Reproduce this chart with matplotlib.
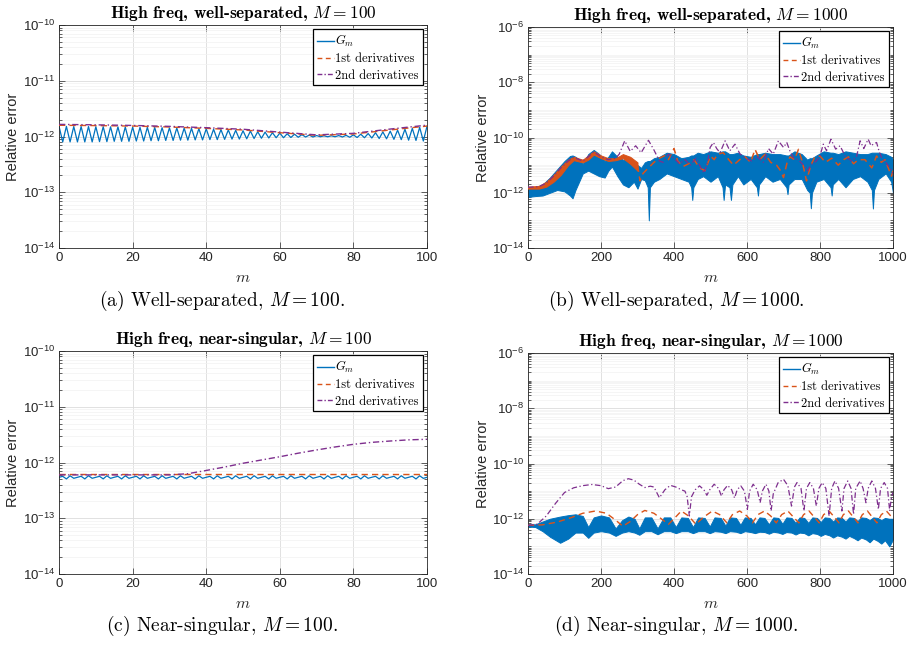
import numpy as np
import matplotlib
matplotlib.use('Agg')
import matplotlib.pyplot as plt
from matplotlib.lines import Line2D
from matplotlib.ticker import FixedLocator, LogFormatterSciNotation, NullFormatter

plt.rcParams['font.family'] = ['Liberation Sans', 'DejaVu Sans']
plt.rcParams['mathtext.fontset'] = 'cm'

UNIT = 1e-12   # every error value below is given in units of 1e-12

BLUE = '#0072BD'
ORANGE = '#D95319'
PURPLE = '#7E2F8E'
AXCOL = '#262626'

# ---------------- (a) well-separated, M = 100 ----------------
m_a = np.arange(101)
gm_a = [1.52, 0.80, 1.52, 0.80, 1.51, 0.80, 1.51, 0.80, 1.51, 0.80,
        1.50, 0.81, 1.50, 0.81, 1.49, 0.82, 1.49, 0.82, 1.48, 0.82,
        1.47, 0.83, 1.46, 0.83, 1.46, 0.84, 1.45, 0.84, 1.44, 0.85,
        1.43, 0.85, 1.42, 0.86, 1.41, 0.86, 1.40, 0.87, 1.38, 0.87,
        1.37, 0.88, 1.35, 0.88, 1.33, 0.89, 1.31, 0.90, 1.29, 0.90,
        1.27, 0.91, 1.25, 0.92, 1.22, 0.93, 1.20, 0.94, 1.17, 0.95,
        1.15, 0.95, 1.12, 0.96, 1.10, 0.97, 1.08, 0.98, 1.06, 0.98,
        1.04, 0.99, 1.03, 0.99, 1.03, 0.99, 1.04, 0.98, 1.05, 0.97,
        1.07, 0.96, 1.10, 0.95, 1.13, 0.94, 1.17, 0.92, 1.21, 0.91,
        1.25, 0.89, 1.30, 0.88, 1.35, 0.86, 1.40, 0.85, 1.46, 0.83,
        1.53]
m_a_deriv = [0, 10, 20, 30, 40, 50, 60, 70, 80, 90, 100]
d1_a = [1.59, 1.57, 1.54, 1.48, 1.40, 1.31, 1.17, 1.05, 1.11, 1.31, 1.54]
d2_a = [1.65, 1.62, 1.58, 1.52, 1.44, 1.35, 1.20, 1.07, 1.14, 1.36, 1.60]

# ---------------- (b) well-separated, M = 1000 ----------------
m_b_gm = [0, 20, 40, 60, 80, 100, 115, 122, 130, 140,
          150, 165, 180, 195, 210, 220, 230, 245, 260, 275,
          290, 300, 310, 320, 328, 331, 334, 345, 360, 380,
          400, 420, 440, 447, 450, 453, 465, 480, 500, 520,
          533, 536, 540, 552, 556, 560, 575, 590, 610, 627,
          630, 633, 650, 670, 690, 708, 711, 714, 730, 750,
          765, 772, 775, 778, 790, 810, 829, 832, 835, 850,
          870, 890, 910, 930, 942, 945, 948, 960, 980, 995, 1000]
gm_b_hi = [1.58, 1.58, 2.0, 3.55, 7.08, 14.1, 21.4, 22.4, 20.0, 15.8,
           11.2, 25.1, 35.5, 25.1, 14.1, 20.0, 31.6, 20.0, 15.8, 14.1,
           12.6, 10.0, 7.94, 12.6, 14.1, 14.1, 14.1, 17.8, 20.0, 28.2,
           25.1, 17.8, 20.0, 22.4, 22.4, 22.4, 28.2, 25.1, 31.6, 28.2,
           31.6, 31.6, 31.6, 25.1, 25.1, 25.1, 28.2, 22.4, 20.0, 25.1,
           25.1, 25.1, 28.2, 25.1, 25.1, 22.4, 22.4, 22.4, 31.6, 25.1,
           15.8, 17.8, 17.8, 17.8, 22.4, 31.6, 28.2, 28.2, 28.2, 25.1,
           31.6, 28.2, 25.1, 25.1, 28.2, 28.2, 28.2, 28.2, 25.1, 20.0, 15.8]
gm_b_lo = [0.708, 0.759, 0.794, 1.0, 1.26, 1.12, 0.794, 0.631, 1.26, 2.51,
           5.01, 6.31, 5.01, 3.98, 3.55, 6.31, 8.91, 3.98, 2.0, 1.58,
           2.51, 1.41, 3.16, 2.82, 1.58, 0.1, 1.58, 2.51, 3.16, 5.01,
           3.98, 3.16, 2.51, 1.58, 0.55, 1.58, 3.16, 3.98, 2.51, 3.98,
           1.58, 0.55, 2.0, 1.58, 0.55, 2.0, 3.98, 2.0, 3.16, 1.58,
           0.794, 2.0, 3.98, 2.51, 3.16, 1.58, 0.891, 2.0, 3.16, 3.16,
           1.26, 1.0, 0.275, 1.0, 2.51, 3.16, 1.58, 0.794, 2.0, 3.16,
           1.58, 3.16, 3.98, 2.51, 1.26, 0.269, 1.26, 3.16, 5.01, 2.51, 1.0]

m_b_d1_band = [0, 30, 50, 70, 90, 110, 125, 150, 165, 180, 200, 220, 240, 260, 280, 300]
d1_b_band_hi = [1.66, 1.78, 2.51, 4.47, 8.91, 15.8, 20.0, 15.8, 22.4, 31.6,
                22.4, 17.8, 17.8, 25.1, 20.0, 12.6]
d1_b_band_lo = [1.41, 1.41, 1.66, 2.51, 4.47, 10.0, 15.1, 12.6, 15.8, 24.0,
                17.8, 14.1, 15.1, 17.8, 11.2, 6.31]
m_b_d1 = [300, 307, 315, 330, 345, 360, 375, 385, 400, 410,
          425, 440, 455, 470, 485, 500, 510, 520, 535, 550,
          563, 580, 595, 610, 622, 635, 650, 665, 681, 692,
          700, 710, 718, 730, 741, 752, 763, 775, 786, 800,
          815, 832, 850, 865, 878, 892, 905, 923, 942, 955,
          968, 978, 990, 996, 1000]
d1_b = [10.0, 2.69, 5.01, 7.94, 12.6, 17.8, 22.4, 15.8, 39.8, 14.1,
        8.91, 11.2, 15.8, 7.94, 6.31, 21.4, 15.8, 25.1, 28.2, 15.8,
        10.0, 15.8, 20.0, 12.6, 37.2, 15.8, 25.1, 12.6, 10.0, 6.31,
        3.55, 12.6, 20.0, 15.8, 37.2, 12.6, 2.69, 10.0, 20.0, 21.4,
        12.6, 17.8, 10.0, 15.8, 20.0, 11.2, 15.8, 15.8, 7.94, 21.4,
        12.6, 15.8, 6.31, 3.98, 6.31]
m_b_d2 = [0, 30, 50, 70, 90, 110, 125, 150, 165, 180,
          200, 220, 240, 250, 265, 280, 295, 310, 330, 345,
          360, 370, 385, 400, 415, 430, 445, 460, 472, 482,
          492, 499, 508, 517, 526, 540, 553, 567, 581, 597,
          613, 628, 645, 659, 672, 686, 700, 709, 718, 727,
          740, 755, 766, 777, 790, 800, 809, 818, 830, 843,
          855, 870, 887, 900, 910, 920, 932, 940, 946, 955,
          962, 969, 980, 992, 1000]
d2_b = [1.58, 1.66, 2.24, 3.98, 7.94, 14.1, 19.1, 14.1, 20.0, 30.2,
        20.0, 15.8, 17.8, 25.1, 75.9, 31.6, 50.1, 28.2, 79.4, 35.5,
        14.1, 12.6, 25.1, 17.8, 11.2, 15.8, 10.0, 17.8, 8.91, 5.13,
        12.6, 43.7, 66.1, 39.8, 28.2, 75.9, 33.1, 57.5, 25.1, 17.8,
        14.1, 20.0, 12.6, 39.8, 25.1, 75.9, 43.7, 66.1, 31.6, 18.6,
        15.8, 10.0, 6.31, 10.7, 14.1, 21.4, 57.5, 33.1, 87.1, 38.0,
        50.1, 20.0, 14.1, 20.0, 75.9, 39.8, 87.1, 50.1, 57.5, 66.1,
        31.6, 18.6, 12.6, 7.94, 5.01]

# ---------------- (c) near-singular, M = 100 ----------------
m_c = np.arange(101)
gm_c = [0.543, 0.565, 0.508, 0.578, 0.521, 0.543, 0.566, 0.508, 0.579, 0.521,
        0.543, 0.565, 0.509, 0.578, 0.520, 0.544, 0.565, 0.508, 0.578, 0.521,
        0.543, 0.566, 0.508, 0.578, 0.521, 0.543, 0.565, 0.508, 0.579, 0.520,
        0.543, 0.565, 0.508, 0.578, 0.521, 0.544, 0.566, 0.508, 0.578, 0.521,
        0.543, 0.565, 0.509, 0.578, 0.521, 0.543, 0.565, 0.508, 0.578, 0.520,
        0.543, 0.566, 0.508, 0.579, 0.521, 0.543, 0.565, 0.508, 0.578, 0.521,
        0.544, 0.565, 0.508, 0.578, 0.521, 0.543, 0.566, 0.509, 0.578, 0.521,
        0.543, 0.565, 0.508, 0.578, 0.520, 0.543, 0.565, 0.508, 0.579, 0.521,
        0.543, 0.566, 0.508, 0.578, 0.521, 0.544, 0.565, 0.508, 0.578, 0.521,
        0.543, 0.565, 0.509, 0.578, 0.521, 0.543, 0.566, 0.508, 0.578, 0.520,
        0.543]
m_c_d1 = [0, 50, 100]
d1_c = [0.615, 0.615, 0.615]
m_c_d2 = [0, 10, 20, 30, 35, 40, 45, 50, 55, 60, 65, 70, 75, 80, 85, 90, 95, 100]
d2_c = [0.60, 0.60, 0.60, 0.60, 0.63, 0.72, 0.83, 0.97, 1.11, 1.27, 1.47,
        1.68, 1.90, 2.12, 2.30, 2.43, 2.55, 2.61]

# ---------------- (d) near-singular, M = 1000 ----------------
m_d_gm = [0, 20, 40, 60, 88, 110, 130, 150, 165, 180,
          200, 222, 240, 258, 275, 292, 305, 320, 338, 355,
          372, 390, 405, 420, 438, 452, 466, 484, 498, 511,
          528, 541, 553, 570, 582, 594, 610, 622, 634, 648,
          660, 672, 686, 697, 708, 722, 733, 744, 757, 768,
          779, 792, 802, 813, 826, 836, 847, 860, 870, 880,
          893, 903, 913, 926, 936, 946, 958, 968, 978, 990, 1000]
gm_d_hi = [0.631, 0.631, 0.794, 1.0, 1.20, 1.35, 1.45, 1.26, 0.501, 1.12,
           1.32, 1.12, 0.447, 0.891, 1.20, 1.0, 0.447, 1.12, 1.12, 0.447,
           1.12, 1.12, 0.501, 1.12, 1.07, 0.501, 1.12, 1.07, 0.525, 1.12,
           1.07, 0.562, 1.12, 1.07, 0.603, 1.12, 1.07, 0.631, 1.12, 1.07,
           0.631, 1.12, 1.07, 0.661, 1.12, 1.07, 0.708, 1.12, 1.07, 0.708,
           1.12, 1.07, 0.759, 1.12, 1.07, 0.794, 1.12, 1.07, 0.794, 1.12,
           1.07, 0.832, 1.12, 1.07, 0.891, 1.12, 1.07, 0.891, 1.07, 1.0, 1.0]
gm_d_lo = [0.525, 0.501, 0.355, 0.224, 0.135, 0.191, 0.316, 0.316, 0.204, 0.316,
           0.355, 0.316, 0.240, 0.316, 0.355, 0.316, 0.263, 0.355, 0.355, 0.275,
           0.355, 0.355, 0.302, 0.355, 0.355, 0.302, 0.355, 0.355, 0.302, 0.355,
           0.339, 0.302, 0.355, 0.339, 0.302, 0.355, 0.331, 0.302, 0.339, 0.331,
           0.288, 0.339, 0.316, 0.282, 0.331, 0.316, 0.269, 0.316, 0.302, 0.251,
           0.302, 0.282, 0.240, 0.282, 0.251, 0.209, 0.251, 0.224, 0.191, 0.240,
           0.200, 0.166, 0.209, 0.178, 0.141, 0.191, 0.158, 0.126, 0.166, 0.1, 0.178]
m_d_d1 = [0, 40, 80, 120, 150, 185, 215, 240, 260, 280,
          300, 320, 345, 370, 385, 400, 420, 440, 460, 480,
          505, 525, 545, 560, 580, 600, 615, 630, 648, 665,
          680, 695, 712, 728, 742, 755, 770, 785, 798, 810,
          825, 840, 852, 864, 878, 892, 904, 916, 930, 944,
          956, 968, 982, 994, 1000]
d1_d = [0.575, 0.603, 0.759, 1.12, 1.58, 1.91, 1.58, 0.891, 0.537, 0.794,
        1.41, 2.0, 1.58, 0.891, 0.631, 1.0, 1.91, 1.26, 0.631, 1.12,
        1.91, 1.41, 0.708, 1.41, 1.91, 1.26, 0.708, 1.41, 1.91, 1.26,
        0.708, 1.41, 1.91, 1.12, 0.708, 1.41, 1.91, 1.12, 0.708, 1.41,
        1.91, 1.12, 0.708, 1.41, 1.91, 1.12, 0.708, 1.41, 1.91, 1.12,
        0.708, 1.41, 1.91, 1.26, 1.58]
m_d_d2 = [0, 25, 50, 75, 100, 125, 150, 175, 200, 220,
          240, 260, 275, 290, 305, 320, 335, 345, 360, 375,
          390, 405, 420, 430, 436, 442, 448, 458, 470, 482,
          490, 498, 510, 522, 530, 537, 547, 558, 566, 573,
          583, 593, 601, 607, 617, 628, 636, 642, 652, 660,
          666, 672, 685, 700, 712, 722, 730, 737, 748, 756,
          763, 772, 782, 790, 797, 806, 816, 825, 832, 841,
          851, 860, 866, 876, 885, 892, 898, 910, 918, 926,
          932, 942, 952, 960, 966, 976, 985, 991, 996, 1000]
d2_d = [0.575, 0.631, 1.26, 3.55, 8.91, 13.2, 15.8, 17.4, 15.8, 12.3,
        14.1, 24.0, 28.2, 25.1, 17.8, 13.5, 15.1, 14.1, 5.75, 11.2,
        16.2, 14.1, 11.2, 10.0, 6.31, 1.26, 6.31, 11.2, 15.5, 11.2,
        7.08, 11.2, 17.8, 12.6, 6.61, 11.2, 16.2, 11.2, 5.62, 11.2,
        15.5, 10.0, 2.19, 10.0, 17.8, 11.2, 3.80, 10.0, 17.8, 10.0,
        1.91, 7.94, 20.0, 26.9, 15.8, 2.88, 14.1, 20.4, 12.6, 1.91,
        12.6, 20.4, 12.6, 2.88, 12.6, 20.4, 12.6, 1.26, 12.6, 23.4,
        12.6, 1.91, 12.6, 23.4, 12.6, 1.45, 12.6, 23.4, 12.6, 3.80,
        12.6, 23.4, 12.6, 2.19, 12.6, 20.4, 12.6, 1.91, 6.31, 8.91]

legend_labels = [r'$G_m$', '1st derivatives', '2nd derivatives']
titles = [r'High freq, well-separated, $M = 100$',
          r'High freq, well-separated, $M = 1000$',
          r'High freq, near-singular, $M = 100$',
          r'High freq, near-singular, $M = 1000$']
captions = [r'(a) Well-separated, $M = 100$.',
            r'(b) Well-separated, $M = 1000$.',
            r'(c) Near-singular, $M = 100$.',
            r'(d) Near-singular, $M = 1000$.']

D1_DASH = (0, (4.5, 3))
D2_DASH = (0, (4.5, 2, 1, 2))


def u(vals):
    return np.asarray(vals) * UNIT


def style_axes(ax, xmax, xticks, ylo, yhi, ystep, title):
    ax.set_yscale('log')
    ax.set_xlim(0, xmax)
    ax.set_ylim(10.0 ** ylo, 10.0 ** yhi)
    ax.set_xticks(xticks)
    ax.yaxis.set_major_locator(FixedLocator([10.0 ** k for k in range(ylo, yhi + 1, ystep)]))
    minors = [j * 10.0 ** k for k in range(ylo, yhi) for j in range(1, 10)
              if not (j == 1 and (k - ylo) % ystep == 0)]
    ax.yaxis.set_minor_locator(FixedLocator(minors))
    ax.yaxis.set_minor_formatter(NullFormatter())
    ax.yaxis.set_major_formatter(LogFormatterSciNotation())
    ax.tick_params(which='both', direction='in', top=True, right=True,
                   color=AXCOL, width=0.5)
    ax.tick_params(which='major', length=4, labelsize=9.5, labelcolor=AXCOL, pad=3)
    ax.tick_params(which='minor', length=2)
    ax.grid(True, which='major', color='#dcdcdc', lw=0.6)
    ax.yaxis.grid(True, which='minor', color='#f1f1f1', lw=0.5)
    ax.set_axisbelow(True)
    for sp in ax.spines.values():
        sp.set_color(AXCOL)
        sp.set_linewidth(0.6)
    ax.set_xlabel('$m$', fontsize=11.5, labelpad=4, color=AXCOL)
    ax.set_ylabel('Relative error', fontsize=10.5, color=AXCOL)
    ax.yaxis.set_label_coords(-0.105, 0.5)
    ax.set_title(title, fontfamily='cmb10', fontsize=12.5, pad=5)
    handles = [Line2D([], [], color=BLUE, lw=1.0),
               Line2D([], [], color=ORANGE, lw=1.0, ls=(0, (3.5, 2.5))),
               Line2D([], [], color=PURPLE, lw=1.0, ls=(0, (3.5, 1.5, 1, 1.5)))]
    leg = ax.legend(handles, legend_labels, loc='upper right',
                    prop={'family': 'cmr10', 'size': 9.0}, frameon=True,
                    fancybox=False, framealpha=1, edgecolor='black',
                    borderpad=0.3, handlelength=1.4, handletextpad=0.1,
                    labelspacing=0.32, borderaxespad=0.35)
    leg.get_frame().set_linewidth(0.9)


fig = plt.figure(figsize=(9.14, 6.69), dpi=100)
ax_a = fig.add_axes([0.0646, 0.6293, 0.4026, 0.3333])
ax_b = fig.add_axes([0.5777, 0.6293, 0.3993, 0.3303])
ax_c = fig.add_axes([0.0646, 0.1420, 0.4026, 0.3333])
ax_d = fig.add_axes([0.5777, 0.1420, 0.3993, 0.3303])

# (a)
ax_a.plot(m_a, u(gm_a), color=BLUE, lw=0.9, zorder=2)
ax_a.plot(m_a_deriv, u(d1_a), color=ORANGE, lw=1.0, ls=D1_DASH, zorder=3)
ax_a.plot(m_a_deriv, u(d2_a), color=PURPLE, lw=1.0, ls=D2_DASH, zorder=4)
style_axes(ax_a, 100, range(0, 101, 20), -14, -10, 1, titles[0])

# (b)
ax_b.fill_between(m_b_gm, u(gm_b_lo), u(gm_b_hi), facecolor=BLUE,
                  edgecolor=BLUE, lw=0.7, zorder=2)
ax_b.fill_between(m_b_d1_band, u(d1_b_band_lo), u(d1_b_band_hi), facecolor=ORANGE,
                  edgecolor=ORANGE, lw=0.7, zorder=3)
ax_b.plot(m_b_d1, u(d1_b), color=ORANGE, lw=1.1, ls=D1_DASH, zorder=3)
ax_b.plot(m_b_d2, u(d2_b), color=PURPLE, lw=0.9, ls=D2_DASH, zorder=4)
style_axes(ax_b, 1000, range(0, 1001, 200), -14, -6, 2, titles[1])

# (c)
ax_c.plot(m_c, u(gm_c), color=BLUE, lw=0.9, zorder=2)
ax_c.plot(m_c_d1, u(d1_c), color=ORANGE, lw=1.0, ls=D1_DASH, zorder=3)
ax_c.plot(m_c_d2, u(d2_c), color=PURPLE, lw=1.0, ls=D2_DASH, zorder=4)
style_axes(ax_c, 100, range(0, 101, 20), -14, -10, 1, titles[2])

# (d)
ax_d.fill_between(m_d_gm, u(gm_d_lo), u(gm_d_hi), facecolor=BLUE,
                  edgecolor=BLUE, lw=0.7, zorder=2)
ax_d.plot(m_d_d1, u(d1_d), color=ORANGE, lw=1.0, ls=D1_DASH, zorder=3)
ax_d.plot(m_d_d2, u(d2_d), color=PURPLE, lw=0.9, ls=D2_DASH, zorder=4)
style_axes(ax_d, 1000, range(0, 1001, 200), -14, -6, 2, titles[3])

cap_pos = [(0.243, 0.550), (0.740, 0.550), (0.243, 0.064), (0.740, 0.064)]
for (cx, cy), txt in zip(cap_pos, captions):
    fig.text(cx, cy, txt, family='cmr10', fontsize=14, ha='center', va='center')

fig.savefig('out.png', dpi=100)
